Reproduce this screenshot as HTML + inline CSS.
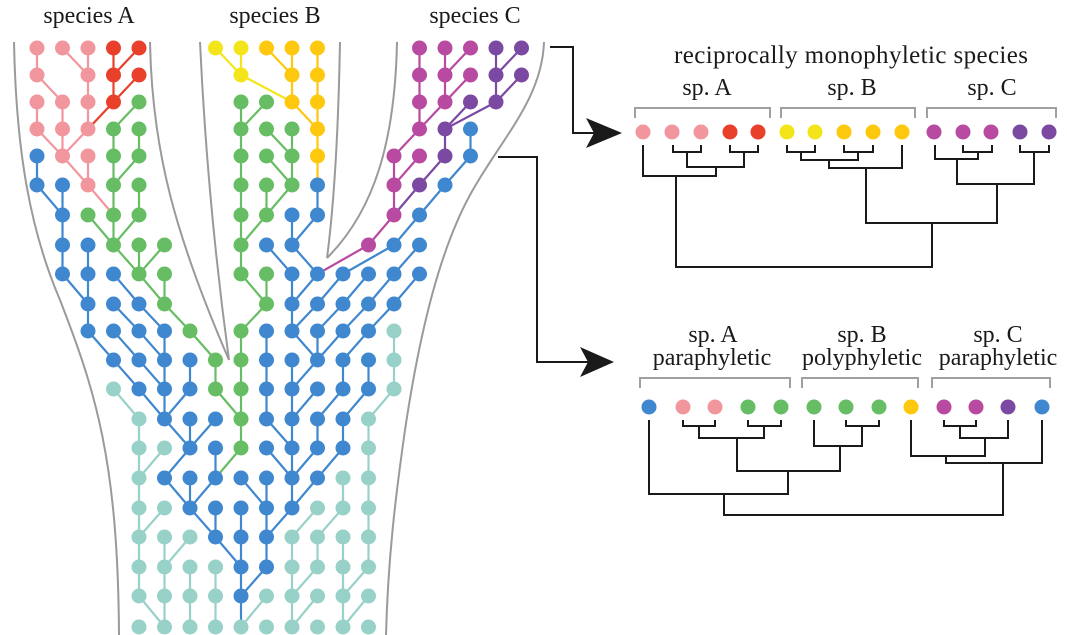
<!DOCTYPE html>
<html><head><meta charset="utf-8">
<style>
html,body{margin:0;padding:0;background:#fff;}
svg{display:block;}
text{font-family:"Liberation Serif",serif;fill:#1a1a1a;}
</style></head>
<body>
<svg id="s" width="1067" height="635" viewBox="0 0 1067 635" xmlns="http://www.w3.org/2000/svg">
<rect width="1067" height="635" fill="#fff"/>
<g fill="none" stroke="#9a9a9a" stroke-width="2">
<path d="M14,42 C16,150 30,230 60,300 C95,390 118,460 119,635"/>
<path d="M150,42 C152,150 175,235 229,360"/>
<path d="M200,42 C205,150 214,250 229,360"/>
<path d="M340,42 C338,150 332,220 327,258"/>
<path d="M397,42 C395,140 375,210 327,258"/>
<path d="M544,42 C542,100 500,140 470,195 C440,250 420,330 405,430 C395,500 388,560 386,635"/>
</g>
<g id="grid"></g>
<text x="89" y="23" font-size="24" text-anchor="middle">species A</text>
<text x="275" y="23" font-size="24" text-anchor="middle">species B</text>
<text x="475" y="23" font-size="24" text-anchor="middle">species C</text>

<g fill="none" stroke="#1a1a1a" stroke-width="2">
<path d="M550,47 H573 V133 H595"/>
<path d="M498,157 H537 V362 H590"/>
</g>
<path d="M622,133 L586,118 L594,133 L586,148 Z" fill="#1a1a1a"/>
<path d="M614,362 L580,347 L588,362 L580,377 Z" fill="#1a1a1a"/>

<text x="851" y="63" font-size="25" text-anchor="middle" textLength="354">reciprocally monophyletic species</text>
<text x="707" y="95" font-size="24" text-anchor="middle">sp. A</text>
<text x="852" y="95" font-size="24" text-anchor="middle">sp. B</text>
<text x="992" y="95" font-size="24" text-anchor="middle">sp. C</text>
<g fill="none" stroke="#a0a0a0" stroke-width="2">
<path d="M635,118 V108 H770 V118"/>
<path d="M781,118 V108 H915 V118"/>
<path d="M927,118 V108 H1056 V118"/>
<path d="M640,388 V378 H790 V388"/>
<path d="M802,388 V378 H918 V388"/>
<path d="M932,388 V378 H1050 V388"/>
</g>
<g fill="none" stroke="#1a1a1a" stroke-width="2">
<path d="M673,145 V152 H701 V145"/>
<path d="M730,145 V152 H758 V145"/>
<path d="M687,152 V167 H744 V152"/>
<path d="M643,145 V176 H716 V167"/>
<path d="M787,145 V152 H815 V145"/>
<path d="M844,145 V152 H873 V145"/>
<path d="M801,152 V160 H858 V152"/>
<path d="M829,160 V168 H902 V145"/>
<path d="M963,145 V152 H992 V145"/>
<path d="M1020,145 V152 H1049 V145"/>
<path d="M935,145 V159 H978 V152"/>
<path d="M957,159 V184 H1034 V152"/>
<path d="M866,168 V223 H997 V184"/>
<path d="M676,176 V267 H932 V223"/>
<path d="M683,420 V426 H715 V420"/>
<path d="M748,420 V426 H781 V420"/>
<path d="M699,426 V438 H764 V426"/>
<path d="M846,420 V426 H879 V420"/>
<path d="M814,420 V446 H862 V426"/>
<path d="M737,438 V471 H840 V446"/>
<path d="M649,420 V494 H788 V471"/>
<path d="M944,420 V426 H976 V420"/>
<path d="M960,426 V438 H1008 V420"/>
<path d="M911,420 V456 H985 V438"/>
<path d="M946,456 V463 H1042 V420"/>
<path d="M724,494 V515 H1003 V463"/>
</g>
<g>
<circle cx="643" cy="132" r="7.5" fill="#f2969e"/><circle cx="672" cy="132" r="7.5" fill="#f2969e"/><circle cx="701" cy="132" r="7.5" fill="#f2969e"/><circle cx="730" cy="132" r="7.5" fill="#e8402a"/><circle cx="758" cy="132" r="7.5" fill="#e8402a"/>
<circle cx="787" cy="132" r="7.5" fill="#f4e51a"/><circle cx="815" cy="132" r="7.5" fill="#f4e51a"/><circle cx="844" cy="132" r="7.5" fill="#fec80e"/><circle cx="873" cy="132" r="7.5" fill="#fec80e"/><circle cx="902" cy="132" r="7.5" fill="#fec80e"/>
<circle cx="934" cy="132" r="7.5" fill="#b84aa2"/><circle cx="963" cy="132" r="7.5" fill="#b84aa2"/><circle cx="991" cy="132" r="7.5" fill="#b84aa2"/><circle cx="1020" cy="132" r="7.5" fill="#7b48a2"/><circle cx="1049" cy="132" r="7.5" fill="#7b48a2"/>

<circle cx="649" cy="407" r="7.5" fill="#3f87cf"/><circle cx="683" cy="407" r="7.5" fill="#f2969e"/><circle cx="715" cy="407" r="7.5" fill="#f2969e"/><circle cx="748" cy="407" r="7.5" fill="#66bd63"/><circle cx="781" cy="407" r="7.5" fill="#66bd63"/>
<circle cx="814" cy="407" r="7.5" fill="#66bd63"/><circle cx="846" cy="407" r="7.5" fill="#66bd63"/><circle cx="879" cy="407" r="7.5" fill="#66bd63"/><circle cx="911" cy="407" r="7.5" fill="#fec80e"/>
<circle cx="944" cy="407" r="7.5" fill="#b84aa2"/><circle cx="976" cy="407" r="7.5" fill="#b84aa2"/><circle cx="1008" cy="407" r="7.5" fill="#7b48a2"/><circle cx="1042" cy="407" r="7.5" fill="#3f87cf"/>
</g>
<text x="713" y="342" font-size="24" text-anchor="middle">sp. A</text>
<text x="712" y="365" font-size="24" text-anchor="middle">paraphyletic</text>
<text x="862" y="342" font-size="24" text-anchor="middle">sp. B</text>
<text x="862" y="365" font-size="24" text-anchor="middle">polyphyletic</text>
<text x="998" y="342" font-size="24" text-anchor="middle">sp. C</text>
<text x="998" y="365" font-size="24" text-anchor="middle">paraphyletic</text>
</svg>
<script>
(function(){
var C={p:"#f2969e",r:"#e8402a",y:"#f4e51a",o:"#fec80e",G:"#66bd63",m:"#b84aa2",v:"#7b48a2",b:"#3f87cf",t:"#98d1c8"};
var Y=[48,75,102,129,156,185,215,245,274,304,331,360,389,419,448,478,508,537,567,596,627];
function X(c){return 37+25.5*c;}
var R=[
"p0>0 p1>2 p2>2 r3>3 r4>3 y7>8 y8>8 o9>10 o10>10 o11>11 m15>15 m16>16 m17>16 v18>18 v19>18",
"p0>1 p2>2 r3>3 r4>3 y8>10 o10>10 o11>11 m15>15 m16>16 m17>16 v18>18 v19>18",
"p0>0 p1>1 p2>2 r3>2 G4>3 G8>8 G9>8 o10>11 o11>11 m15>15 m16>15 v17>16 v18>16",
"p0>1 p1>1 p2>1 G3>3 G4>4 G8>8 G9>10 G10>10 o11>11 m15>14 v16>16 b17>17",
"b0>0 p1>2 p2>2 G3>3 G4>3 G8>8 G9>10 G10>10 o11>11 m14>14 m15>14 v16>15 b17>16",
"b0>1 b1>1 p2>3 G3>3 G4>4 G8>8 G9>9 G10>9 b11>11 m14>14 v15>14 b16>15",
"b1>1 G2>3 G3>3 G4>3 G8>8 G9>8 b10>10 b11>10 m14>13 b15>14",
"b1>1 b2>2 G3>4 G4>4 G5>4 G8>8 b9>10 b10>11 m13>11 b14>12 b15>14",
"b1>2 b2>2 b3>4 G4>5 G5>5 G8>9 G9>9 b10>10 b11>10 b12>11 b13>12 b14>13 b15>14",
"b2>2 b3>4 b4>5 G5>6 G9>8 b10>10 b11>10 b12>11 b13>12 b14>13",
"b2>3 b3>4 b4>5 b5>5 G6>7 G8>8 b9>9 b10>11 b11>11 b12>11 b13>12 t14>14",
"b3>4 b4>5 b5>5 b6>6 G7>7 G8>8 b9>9 b10>10 b11>10 b12>12 b13>13 t14>14",
"t3>4 b4>5 b5>5 b6>5 G7>8 G8>8 b9>9 b10>10 b11>10 b12>11 b13>12 t14>13",
"t4>4 b5>6 b6>6 b7>6 G8>8 b9>10 b10>10 b11>11 b12>12 t13>13",
"t4>4 t5>4 b6>5 b7>7 G8>7 b9>10 b10>10 b11>10 b12>11 t13>13",
"t4>4 b5>6 b6>6 b7>6 b8>9 b9>9 b10>10 b11>10 t12>12 t13>13",
"t4>4 t5>4 b6>7 b7>7 b8>8 b9>9 b10>9 t11>10 t12>11 t13>13",
"t4>4 t5>5 t6>5 b7>8 b8>8 b9>9 t10>10 t11>11 t12>12 t13>13",
"t4>4 t5>5 t6>6 t7>7 b8>8 b9>8 t10>10 t11>10 t12>12 t13>12",
"t4>5 t5>5 t6>6 t7>7 b8>8 t9>8 t10>10 t11>10 t12>12 t13>12",
"t4 t5 t6 t7 t8 t9 t10 t11 t12 t13"];
var ns="http://www.w3.org/2000/svg",g=document.getElementById("grid");
var lines=document.createElementNS(ns,"g"),dots=document.createElementNS(ns,"g");
g.appendChild(lines);g.appendChild(dots);
R.forEach(function(row,i){
 row.split(" ").forEach(function(tok){
  var col=C[tok[0]],rest=tok.slice(1).split(">"),c=+rest[0];
  if(rest.length>1){var l=document.createElementNS(ns,"line");
   l.setAttribute("x1",X(c));l.setAttribute("y1",Y[i]);l.setAttribute("x2",X(+rest[1]));l.setAttribute("y2",Y[i+1]);
   l.setAttribute("stroke",col);l.setAttribute("stroke-width","2.2");lines.appendChild(l);}
  var d=document.createElementNS(ns,"circle");d.setAttribute("cx",X(c));d.setAttribute("cy",Y[i]);d.setAttribute("r","7.5");d.setAttribute("fill",col);dots.appendChild(d);
 });
});
})();
</script>
</body></html>
